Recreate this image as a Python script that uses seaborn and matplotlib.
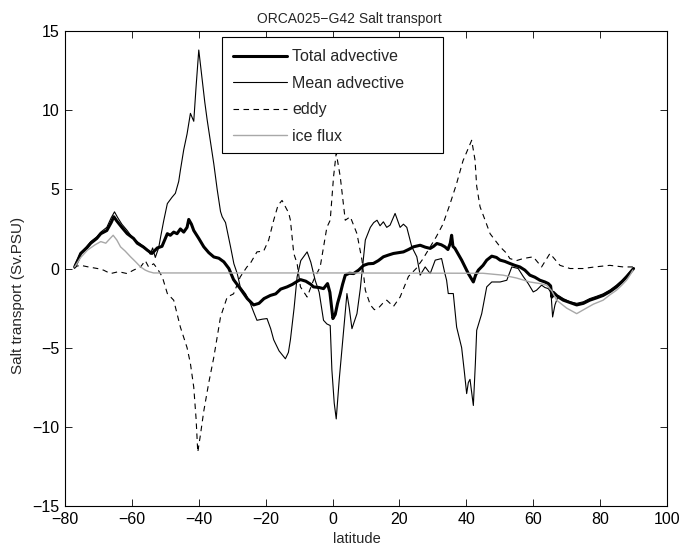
import numpy as np
import pandas as pd
import matplotlib
matplotlib.use("Agg")
import matplotlib.pyplot as plt
from matplotlib.patches import Rectangle
import seaborn as sns

# ---------------- data ----------------
total_lat = [-77.1,-76,-75.3,-73.5,-72.3,-70.5,-69.3,-67.5,-66.2,-65.4,-64.5,-63,-61.4,-59.5,-58.4,-56.5,-55.4,-54,
             -52.4,-51,-49.4,-48.5,-47.5,-46.5,-45.5,-44.5,-43.5,-43,-42.2,-41.5,-40,-38.5,-37,-35.5,-34,-32.5,-31,
             -29.6,-27.5,-25.5,-23.6,-22,-20.5,-18.6,-17,-15.5,-13.6,-12,-10.5,-9.6,-8,-6.5,-5.7,-4,-2.7,-1.5,-0.8,
             0.1,0.8,1.5,2.3,3.0,3.8,5,6.3,7.8,9.3,10.7,12.2,13.7,15.2,16.7,18.2,19.7,21.2,22.7,24.2,26.2,27.7,29.2,
             30.2,31.2,32.5,33.6,34.5,35.2,35.6,36.0,36.6,37.6,38.6,39.6,40.6,41.4,42.1,42.8,43.6,45,46.1,47.6,49,
             50.1,51.5,53,54.5,56,57.5,59,60.5,62,63.5,64.5,65.2,65.6,66,67.5,69,71,73,75,76.9,79,80.9,83,84.9,86.5,
             87.9,89,90]
total_val = [0.1,0.6,0.95,1.3,1.6,1.9,2.2,2.4,2.9,3.27,3.0,2.6,2.2,1.9,1.6,1.35,1.16,0.95,
             1.3,1.4,2.2,2.1,2.3,2.2,2.5,2.3,2.6,3.1,2.8,2.4,1.9,1.37,1.0,0.73,0.65,0.42,0.0,
             -0.7,-1.3,-1.9,-2.3,-2.2,-1.9,-1.7,-1.6,-1.3,-1.16,-1.0,-0.8,-0.7,-0.8,-1.0,-1.16,-1.2,-1.27,-0.95,-1.5,
             -3.16,-2.9,-2.2,-1.6,-1.0,-0.42,-0.3,-0.32,-0.1,0.2,0.3,0.32,0.5,0.74,0.85,0.95,1.0,1.05,1.2,1.37,1.47,1.35,1.27,
             1.4,1.58,1.5,1.37,1.2,1.6,2.1,1.4,1.27,0.9,0.53,0.1,-0.32,-0.6,-0.85,-0.4,-0.1,0.2,0.53,0.78,0.7,
             0.53,0.45,0.32,0.2,0.1,-0.1,-0.42,-0.55,-0.74,-0.85,-0.95,-1.1,-1.8,-1.5,-1.8,-2.0,-2.15,-2.3,-2.2,-2.0,-1.85,
             -1.7,-1.45,-1.16,-0.85,-0.53,-0.25,0.0]

mean_lat = [-77.1,-76,-75.3,-73.5,-72.3,-70.5,-69.3,-67.5,-66.2,-65.2,-64.2,-63,-61.4,-60,-58.4,-56.5,-55.4,-54.5,
            -53.8,-53,-52,-51.4,-50.5,-49.4,-48,-47,-46,-45.5,-44.5,-43.5,-42.5,-41.5,-40.8,-40,-39,-38.2,-37.5,-36.5,
            -35.5,-34.5,-33.5,-33,-32,-30.5,-29.5,-28.5,-27.6,-26,-24.6,-23.5,-22.6,-21,-19.6,-18.5,-17.6,-16,-14.1,
            -13.2,-12.6,-11.5,-10.6,-9.5,-7.6,-6.5,-5.2,-4,-2.7,-1.7,-0.7,-0.2,0.5,1.1,2,3.3,4.3,5.0,5.8,7.3,8.3,9.8,
            11.3,12.3,13.3,14.2,15.2,16.2,17.2,18.7,19.5,20.2,21.2,22.2,23.7,25.2,26.2,27.7,29.2,30.7,32.6,33.6,34.1,
            34.6,36.1,37.1,38.6,39.4,40.1,40.6,41.1,42.1,42.7,43.1,44.6,46.1,47.6,50.1,52.1,53.6,55.5,57,58.5,60,61,
            62.5,63.5,64.5,65.3,65.8,66.5,67.5,69,71,73,75,76.9,79,80.9,83,84.9,86.5,87.9,89,90]
mean_val = [0.2,0.7,1.0,1.4,1.7,2.0,2.3,2.6,3.2,3.58,3.2,2.8,2.4,2.0,1.7,1.4,1.2,0.9,
            1.3,0.7,1.3,2.0,3.0,4.1,4.5,4.75,5.5,6.2,7.5,8.5,9.8,9.3,11.5,13.8,12.0,10.5,9.4,8.0,
            6.6,5.0,3.6,3.27,2.9,1.37,0.3,-0.32,-1.16,-1.6,-2.2,-2.8,-3.27,-3.2,-3.16,-3.8,-4.5,-5.2,-5.7,
            -5.3,-4.5,-2.5,-0.53,0.5,1.05,0.4,-0.74,-1.5,-3.27,-3.5,-3.6,-6.4,-8.5,-9.5,-7.0,-3.9,-1.58,-2.5,-3.8,-2.85,-1.27,1.8,
            2.6,2.9,3.05,2.7,2.95,2.6,2.74,3.48,3.0,2.6,2.8,2.6,1.37,0.74,-0.42,0.1,-0.32,0.53,0.63,-0.32,-0.74,
            -1.58,-1.58,-3.7,-5.0,-6.5,-7.9,-7.2,-7.0,-8.65,-6.0,-3.9,-2.85,-1.16,-0.85,-0.85,-0.74,0.1,0.0,-0.5,-0.95,-1.48,-1.37,
            -1.05,-1.2,-1.27,-1.5,-3.06,-2.3,-1.7,-1.9,-2.1,-2.2,-2.1,-1.9,-1.75,-1.6,-1.35,-1.05,-0.75,-0.45,-0.2,0.0]

eddy_lat = [-77.3,-76.5,-75.3,-73,-70.3,-68.5,-66.4,-64,-61.4,-59.5,-57.4,-56,-55,-53.5,-52.4,-50.9,-49.4,-47.5,
            -45.5,-43.5,-42.5,-41.5,-40.8,-40.3,-39.5,-38.5,-37,-35.5,-33.5,-31.5,-29.6,-27.6,-25.6,-24.6,-22.6,
            -20.6,-19.1,-17.6,-16.3,-15.1,-13.1,-12.6,-11.6,-10.6,-9.6,-7.6,-5.7,-3.7,-1.7,-0.7,0.3,1.1,2.3,3.8,
            5.3,7.3,8.8,9.8,11.3,12.5,13.7,15,16.2,18.2,20.2,22.7,25,27,29,31,33,35,37,39,40.6,41.6,42.6,43.1,44.1,
            45.6,47.1,50.1,52.1,53,55,57,60,62.5,65,68,71,74.9,78.4,82.9,86.9,89.8]
eddy_val = [0.0,0.15,0.2,0.1,0.0,-0.1,-0.32,-0.2,-0.32,-0.1,0.1,0.5,0.1,0.3,0.0,-0.53,-1.58,-2.0,
            -3.7,-5.0,-6.0,-7.5,-9.5,-11.6,-10.5,-9.0,-7.2,-5.6,-3.06,-1.8,-1.6,-0.53,0.1,0.32,1.05,
            1.1,1.8,3.05,4.0,4.3,3.5,3.05,0.95,0.32,-1.16,-1.8,-0.74,0.1,2.6,3.05,5.8,7.3,5.8,3.05,
            3.27,2.2,0.53,-1.37,-2.3,-2.6,-2.5,-2.2,-2.0,-2.4,-1.8,-0.5,0.0,0.6,1.3,2.0,2.8,4.0,5.3,6.8,7.6,
            8.1,6.85,5.2,3.9,3.06,2.2,1.37,0.95,0.63,0.5,0.63,0.74,0.1,0.95,0.2,0.0,0.0,0.1,0.2,0.1,0.1]

ice_lat = [-77.1,-75.3,-73.3,-71,-69.3,-67.8,-66.5,-65.6,-64.5,-63.4,-62,-60.4,-59,-57.4,-56,-54.9,-53.5,
           0,45,51,55,59,62,64,65.5,67,70,73,75.9,78,80.9,83,84.9,86.5,87.9,89,89.8]
ice_val = [0.1,0.7,1.16,1.5,1.7,1.6,1.9,2.1,1.8,1.37,1.1,0.74,0.45,0.1,-0.1,-0.2,-0.28,
           -0.28,-0.3,-0.42,-0.6,-0.85,-0.95,-1.05,-1.4,-2.0,-2.5,-2.85,-2.5,-2.25,-2.0,-1.65,-1.37,-1.05,-0.74,-0.4,-0.1]

series_names = ["Total advective", "Mean advective", "eddy", "ice flux"]

# ---------------- figure ----------------
sns.set_style("ticks")
plt.rcParams["font.family"] = ["Liberation Sans", "DejaVu Sans"]
plt.rcParams["xtick.direction"] = "in"
plt.rcParams["ytick.direction"] = "in"

fig = plt.figure(figsize=(6.82, 5.52), dpi=100)
ax = fig.add_axes([0.0953, 0.0833, 0.8827, 0.8605])

sns.lineplot(x=total_lat, y=total_val, ax=ax, color="black", linewidth=2.2,
             label=series_names[0], estimator=None, sort=False)
sns.lineplot(x=mean_lat, y=mean_val, ax=ax, color="black", linewidth=0.8,
             label=series_names[1], estimator=None, sort=False)
sns.lineplot(x=eddy_lat, y=eddy_val, ax=ax, color="black", linewidth=0.8,
             label=series_names[2], estimator=None, sort=False)
ax.lines[-1].set_dashes([5, 4])
sns.lineplot(x=ice_lat, y=ice_val, ax=ax, color="#a8a8a8", linewidth=1.0,
             label=series_names[3], estimator=None, sort=False)

ax.set_xlim(-80, 100)
ax.set_ylim(-15, 15)
ax.set_xticks(np.arange(-80, 101, 20))
ax.set_yticks(np.arange(-15, 16, 5))
ax.tick_params(which="both", top=True, right=True, length=5, width=0.6,
               labelsize=11.5, color="black", labelcolor="black", pad=4)
for s in ax.spines.values():
    s.set_visible(True)
    s.set_linewidth(0.8)
    s.set_color("black")

ax.set_xlabel("latitude", fontsize=10.5, labelpad=3)
ax.xaxis.set_label_coords(0.485, -0.055)
ax.set_ylabel("Salt transport (Sv.PSU)", fontsize=11, labelpad=4)
ax.yaxis.set_label_coords(-0.066, 0.444)
ax.set_title("ORCA025\u2212G42 Salt transport", fontsize=10, x=0.472, pad=6)

leg = ax.legend(loc="upper left", bbox_to_anchor=(0.2684, 0.975), frameon=False,
                fontsize=11.5, handlelength=3.4, borderpad=0.4, labelspacing=0.72,
                handletextpad=0.3, borderaxespad=0)
leg.get_lines()[2].set_dashes([5, 4])
ax.add_patch(Rectangle((0.2608, 0.743), 0.628 - 0.2608, 0.9874 - 0.743,
                       transform=ax.transAxes, facecolor="white", edgecolor="black",
                       linewidth=0.8, zorder=4.9))
leg.set_zorder(5)

fig.savefig("out.png", dpi=100, facecolor="white")
